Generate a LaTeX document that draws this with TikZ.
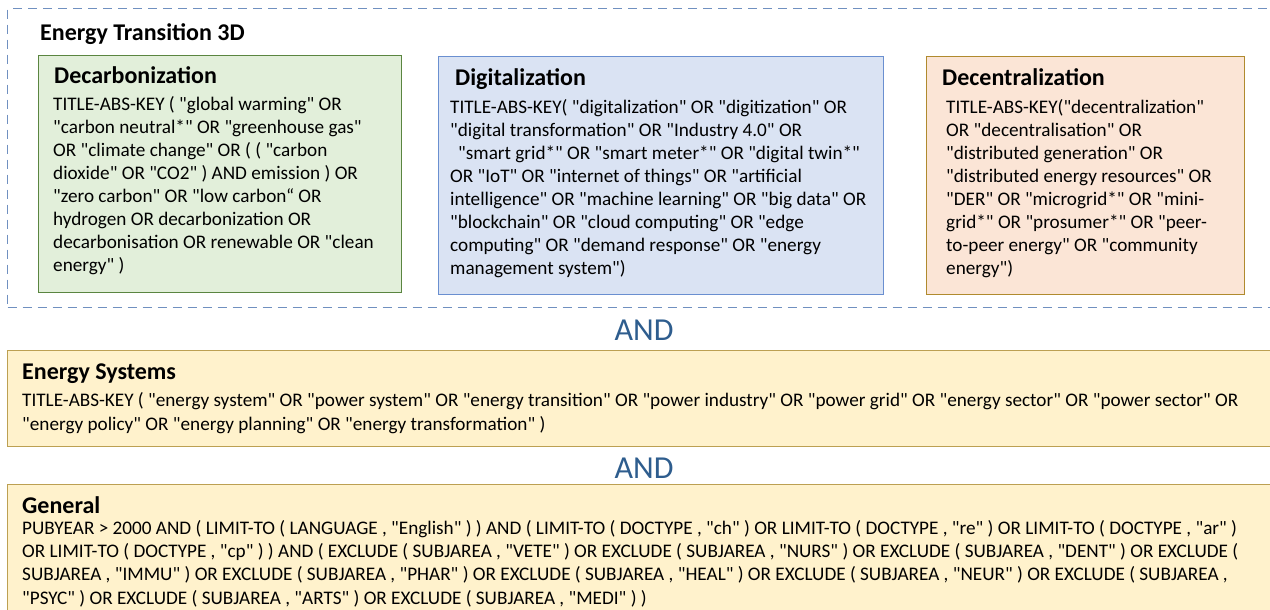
\documentclass[tikz,border=0pt]{standalone}
\usepackage{fontspec}
\setmainfont{Carlito}[Ligatures=TeXOff]
\definecolor{grnfill}{HTML}{E2EFDA}
\definecolor{grnline}{HTML}{5A8540}
\definecolor{blufill}{HTML}{DAE3F3}
\definecolor{bluline}{HTML}{6A8FD0}
\definecolor{pchfill}{HTML}{FBE5D6}
\definecolor{pchline}{HTML}{B08A2E}
\definecolor{ylwfill}{HTML}{FFF2CC}
\definecolor{ylwline}{HTML}{BCA052}
\definecolor{dashline}{HTML}{7090C0}
\definecolor{andcol}{HTML}{2E5D8E}
\newcommand\mybody{\fontsize{19.2}{23}\selectfont}
\newcommand\mybodyg{\fontsize{19.2}{23.3}\selectfont}
\newcommand\myhead{\fontsize{24}{28}\selectfont\bfseries}
\begin{document}
\begin{tikzpicture}[x=1pt,y=-1pt,
  boxbase/.style={draw, anchor=north west, inner sep=0pt, line width=1.2pt},
  greenbox/.style={boxbase, fill=grnfill, draw=grnline},
  bluebox/.style={boxbase, fill=blufill, draw=bluline},
  peachbox/.style={boxbase, fill=pchfill, draw=pchline},
  yellowbox/.style={boxbase, fill=ylwfill, draw=ylwline},
  dashbox/.style={draw=dashline, anchor=north west, inner sep=0pt, line width=1.3pt, dash pattern=on 9pt off 6pt},
  headtext/.style={anchor=base west, inner sep=0pt, font=\myhead},
  bodytext/.style={anchor=base west, inner sep=0pt, align=left, font=\mybody},
  widetext/.style={anchor=base west, inner sep=0pt, align=left, font=\mybodyg},
  andtext/.style={anchor=base, inner sep=0pt, text=andcol, font=\fontsize{32}{36}\selectfont}]
\useasboundingbox (0,0) rectangle (1270,610);
\fill[white] (0,0) rectangle (1270,610);

% Energy Transition 3D group
\node[dashbox, minimum width=1290pt, minimum height=299pt] (et3d) at (7,8) {};
\node[headtext] (ettitle) at (40,41) {Energy Transition 3D};

% Decarbonization (body anchored at last line baseline)
\node[greenbox, minimum width=363pt, minimum height=237pt] (decarb) at (38,55) {};
\node[headtext] (decarbh) at (54,84) {Decarbonization};
\node[bodytext] (decarbt) at (53,271) {TITLE-ABS-KEY ( "global warming" OR\\
"carbon neutral*" OR "greenhouse gas"\\
OR "climate change" OR ( ( "carbon\\
dioxide" OR "CO2" ) AND emission ) OR\\
"zero carbon" OR "low carbon“ OR\\
hydrogen OR decarbonization OR\\
decarbonisation OR renewable OR "clean\\
energy" )};

% Digitalization
\node[bluebox, minimum width=445pt, minimum height=238pt] (digit) at (438,56) {};
\node[headtext] (digith) at (455,85) {Digitalization};
\node[bodytext] (digitt) at (450,274) {TITLE-ABS-KEY( "digitalization" OR "digitization" OR\\
"digital transformation" OR "Industry 4.0" OR\\
\hspace*{8pt}"smart grid*" OR "smart meter*" OR "digital twin*"\\
OR "IoT" OR "internet of things" OR "artificial\\
intelligence" OR "machine learning" OR "big data" OR\\
"blockchain" OR "cloud computing" OR "edge\\
computing" OR "demand response" OR "energy\\
management system")};

% Decentralization
\node[peachbox, minimum width=318pt, minimum height=238pt] (decent) at (926,56) {};
\node[headtext] (decenth) at (942,85) {Decentralization};
\node[bodytext] (decentt) at (946,274) {TITLE-ABS-KEY("decentralization"\\
OR "decentralisation" OR\\
"distributed generation" OR\\
"distributed energy resources" OR\\
"DER" OR "microgrid*" OR "mini-\\
grid*" OR "prosumer*" OR "peer-\\
to-peer energy" OR "community\\
energy")};

\node[andtext] (and1) at (644,340) {AND};

% Energy Systems
\node[yellowbox, minimum width=1290pt, minimum height=96pt] (esys) at (7,350) {};
\node[headtext] (esysh) at (22,379) {Energy Systems};
\node[widetext] (esyst) at (22,430) {TITLE-ABS-KEY ( "energy system" OR "power system" OR "energy transition" OR "power industry" OR "power grid" OR "energy sector" OR "power sector" OR\\
"energy policy" OR "energy planning" OR "energy transformation" )};

\node[andtext] (and2) at (644,478) {AND};

% General
\node[yellowbox, minimum width=1290pt, minimum height=150pt] (gen) at (7,484) {};
\node[headtext] (genh) at (22,513) {General};
\node[widetext] (gent) at (22,604) {PUBYEAR > 2000 AND ( LIMIT-TO ( LANGUAGE , "English" ) ) AND ( LIMIT-TO ( DOCTYPE , "ch" ) OR LIMIT-TO ( DOCTYPE , "re" ) OR LIMIT-TO ( DOCTYPE , "ar" )\\
OR LIMIT-TO ( DOCTYPE , "cp" ) ) AND ( EXCLUDE ( SUBJAREA , "VETE" ) OR EXCLUDE ( SUBJAREA , "NURS" ) OR EXCLUDE ( SUBJAREA , "DENT" ) OR EXCLUDE (\\
SUBJAREA , "IMMU" ) OR EXCLUDE ( SUBJAREA , "PHAR" ) OR EXCLUDE ( SUBJAREA , "HEAL" ) OR EXCLUDE ( SUBJAREA , "NEUR" ) OR EXCLUDE ( SUBJAREA ,\\
"PSYC" ) OR EXCLUDE ( SUBJAREA , "ARTS" ) OR EXCLUDE ( SUBJAREA , "MEDI" ) )};
\end{tikzpicture}
\end{document}
